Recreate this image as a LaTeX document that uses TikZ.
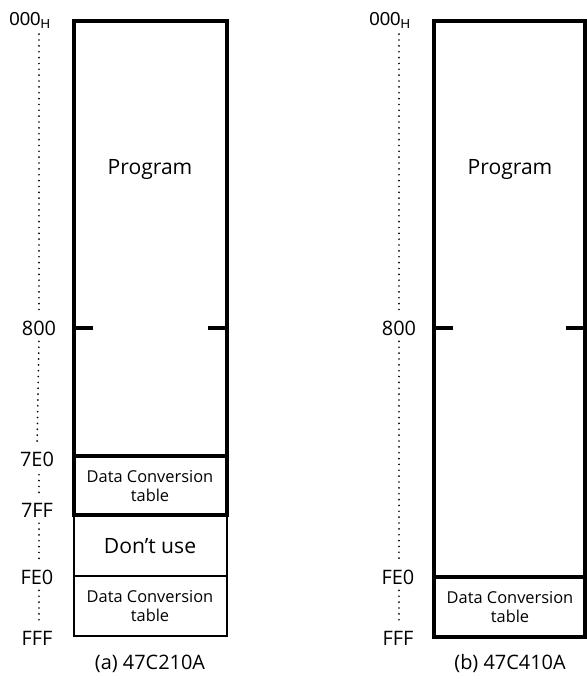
\documentclass[tikz,border=0pt]{standalone}
\usepackage{fontspec}
\setmainfont{Open Sans}
\newfontfamily\hexfont{Liberation Sans}
\usetikzlibrary{positioning}

\tikzset{
  mapline/.style={line width=3.4pt},
  thinline/.style={line width=1.6pt},
  addr/.style={font=\fontsize{17}{19}\selectfont, inner sep=1pt},
  area/.style={font=\fontsize{14}{16}\selectfont, align=center, inner sep=0pt},
  bigarea/.style={area, font=\fontsize{18}{20}\selectfont},
  lead/.style={line width=1.6pt, line cap=round, dash pattern=on 0pt off 5pt,
    shorten <=4pt, shorten >=4pt},
  caption/.style={font=\fontsize{17}{19}\selectfont}
}

\begin{document}
\begin{tikzpicture}[x=0.03cm,y=-0.03cm]
  \useasboundingbox (0,0) rectangle (586,683);

  % (a) 47C210A
  \draw[mapline] (74,515) -- (74,21) -- (227,21) -- (227,515) -- cycle;
  \draw[mapline] (74,456) -- (227,456);
  \draw[thinline] (74,515) -- (74,636) -- (227,636) -- (227,515);
  \draw[thinline] (74,576) -- (227,576);
  \draw[mapline] (74,328) -- (93,328);
  \draw[mapline] (208,328) -- (227,328);

  \node[bigarea] (aprog) at (150,170) {Program};
  \node[area] (atab1) at (150,486) {Data Conversion\\table};
  \node[bigarea] (anouse) at (150,546) {Don’t use};
  \node[area] (atab2) at (150,606) {Data Conversion\\table};

  \node[addr, font=\hexfont\fontsize{16}{18}\selectfont] (a000) at (30,20) {000\textsubscript{H}};
  \node[addr] (a800) at (39,328) {800};
  \node[addr] (a7E0) at (37,459) {7E0};
  \node[addr] (a7FF) at (37,510) {7FF};
  \node[addr] (aFE0) at (37,577) {FE0};
  \node[addr] (aFFF) at (37,638) {FFF};
  \node[caption] (acap) at (150,664) {(a) 47C210A};

  \draw[lead] (a000.south -| a800.center) -- (a800.north);
  \draw[lead] (a800.south) -- (a7E0.north);
  \draw[lead, shorten <=6pt, shorten >=7pt] (a7E0.south -| a800.center) -- (a7FF.north -| a800.center);
  \draw[lead] (a7FF.south -| a800.center) -- (aFE0.north -| a800.center);
  \draw[lead] (aFE0.south -| a800.center) -- (aFFF.north -| a800.center);

  % (b) 47C410A
  \draw[mapline] (434,21) rectangle (585,637);
  \draw[mapline] (434,577) -- (585,577);
  \draw[mapline] (434,328) -- (453,328);
  \draw[mapline] (566,328) -- (585,328);

  \node[bigarea] (bprog) at (510,170) {Program};
  \node[area] (btab) at (510,607) {Data Conversion\\table};

  \node[addr, font=\hexfont\fontsize{16}{18}\selectfont] (b000) at (390,20) {000\textsubscript{H}};
  \node[addr] (b800) at (399,328) {800};
  \node[addr] (bFE0) at (398,577) {FE0};
  \node[addr] (bFFF) at (398,638) {FFF};
  \node[caption] (bcap) at (510,664) {(b) 47C410A};

  \draw[lead] (b000.south -| b800.center) -- (b800.north);
  \draw[lead] (b800.south) -- (bFE0.north -| b800.center);
  \draw[lead] (bFE0.south -| b800.center) -- (bFFF.north -| b800.center);
\end{tikzpicture}
\end{document}
